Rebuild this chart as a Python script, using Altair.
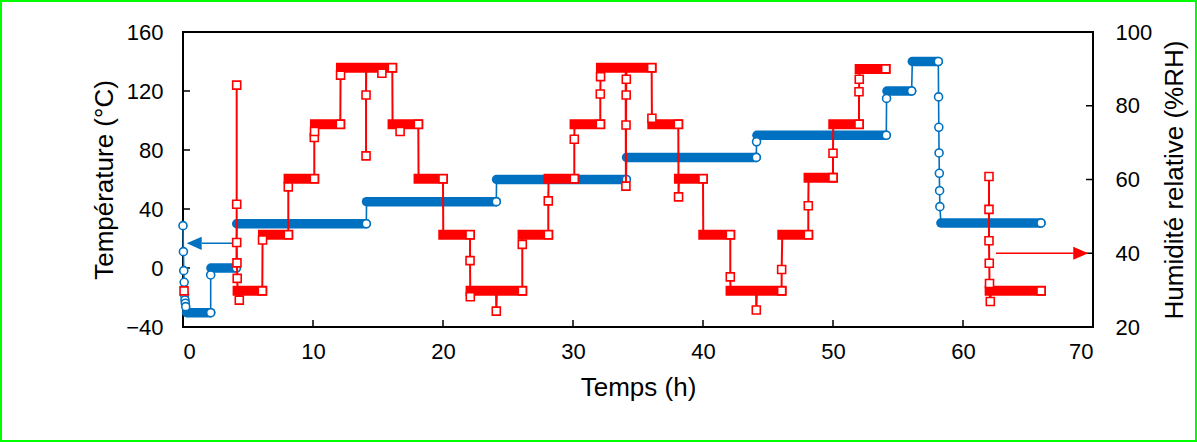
import altair as alt
import pandas as pd

BLUE = "#0070C0"
RED = "#FF0000"
FONT = "Liberation Sans"

# ---------------- Temperature (left axis, °C) ----------------
temp_t = [0.00, 0.03, 0.06, 0.09, 0.12, 0.15, 0.18, 0.21, 0.28, 2.13, 2.13, 2.15,
          4.10, 4.13, 14.10, 14.12, 24.10, 24.12, 34.10, 34.12, 44.10, 44.12, 44.15,
          54.10, 54.12, 54.15, 56.05, 56.10, 58.10, 58.12, 58.14, 58.16, 58.18, 58.20,
          58.22, 58.30, 66.00]
temp_v = [28.7, 11.1, -1.8, -9.7, -18.3, -21.7, -23.9, -26.2, -30.3, -30.3, -4.7, 0.0,
          0.0, 30.0, 30.0, 45.0, 45.0, 60.0, 60.0, 75.0, 75.0, 85.6, 90.0,
          90.0, 115.0, 120.0, 120.0, 140.0, 140.0, 116.0, 95.4, 78.0, 64.2, 52.4,
          41.6, 30.5, 30.5]
temp_mk = [1, 1, 1, 1, 1, 1, 1, 1, 0, 1, 1, 0,
           1, 0, 1, 0, 1, 0, 1, 0, 1, 1, 0,
           1, 1, 0, 1, 0, 1, 1, 1, 1, 1, 1,
           1, 0, 1]
# dense-sample plateaus (drawn as a solid band of overlapping markers)
temp_band_start = [0.28, 2.15, 4.13, 14.12, 24.12, 34.12, 44.15, 54.15, 56.10, 58.30]
temp_band_end = [2.13, 4.10, 14.10, 24.10, 34.10, 44.10, 54.10, 56.05, 58.10, 66.00]
temp_band_val = [-30.3, 0.0, 30.0, 45.0, 60.0, 75.0, 90.0, 120.0, 140.0, 30.5]

# ---------------- Relative humidity (right axis, %RH) ----------------
rh_t = [0.08,
        4.13, 4.13, 4.13, 4.15, 4.17, 4.20, 4.33, 4.40, 6.10, 6.12, 6.15, 8.10, 8.10, 8.12,
        10.10, 10.10, 10.12, 10.15, 12.10, 12.12, 12.15, 14.08, 14.08, 14.08, 14.10,
        15.28, 15.30, 15.35, 16.10, 16.12, 16.68, 16.70, 16.75, 18.10, 18.12, 20.00, 20.02, 22.08,
        22.08, 22.10, 22.12, 24.08, 24.10, 24.15, 26.10, 26.10, 26.12, 28.10, 28.10, 28.12,
        30.10, 30.10, 30.12, 32.10, 32.10, 32.12, 32.15, 34.05, 34.07, 34.08, 34.09,
        34.10, 34.12, 36.05, 36.07, 36.10, 38.10, 38.12, 38.15, 40.00, 40.02, 42.10,
        42.10, 42.12, 44.08, 44.10, 44.15, 46.05, 46.05, 46.10, 48.10, 48.10, 48.12, 50.00,
        50.00, 50.02, 52.00, 52.00, 52.02, 52.05, 54.05,
        62.00, 62.00, 62.00, 62.02, 62.04, 62.05, 62.10, 62.15, 66.00]
rh_v = [29.8,
        85.6, 53.3, 42.9, 37.4, 33.2, 29.8, 27.3, 29.8, 29.8, 43.6, 45.0, 45.0, 58.0, 60.2,
        60.2, 71.4, 73.0, 75.0, 75.0, 88.3, 90.3, 90.3, 66.4, 82.9, 90.3,
        90.3, 88.8, 90.3, 90.3, 75.0, 75.0, 73.0, 75.0, 75.0, 60.2, 60.2, 45.0, 45.0,
        38.0, 28.2, 29.8, 29.8, 24.3, 29.8, 29.8, 42.4, 45.0, 45.0, 54.2, 60.2,
        60.2, 70.9, 75.0, 75.0, 83.2, 87.9, 90.3, 90.3, 58.2, 74.8, 82.9,
        87.2, 90.3, 90.3, 76.6, 75.0, 75.0, 55.3, 60.2, 60.2, 45.0, 45.0,
        33.6, 29.8, 29.8, 24.6, 29.8, 29.8, 35.6, 45.0, 45.0, 52.9, 60.5, 60.5,
        67.1, 75.0, 75.0, 83.8, 87.2, 90.0, 90.0,
        60.8, 51.9, 43.4, 37.3, 31.8, 29.8, 26.9, 29.8, 29.8]
rh_mk = [1,
         1, 1, 1, 1, 1, 0, 1, 0, 1, 1, 0, 1, 1, 0,
         1, 1, 1, 0, 1, 1, 0, 0, 1, 1, 0,
         0, 1, 0, 1, 0, 0, 1, 0, 1, 0, 1, 0, 1,
         1, 1, 0, 0, 1, 0, 1, 1, 0, 1, 1, 0,
         1, 1, 0, 1, 1, 1, 0, 0, 1, 1, 1,
         1, 0, 1, 1, 0, 1, 1, 0, 1, 0, 1,
         1, 0, 0, 1, 0, 1, 1, 0, 1, 1, 0, 1,
         1, 0, 1, 1, 1, 0, 1,
         1, 1, 1, 1, 1, 0, 1, 0, 1]
rh_seg = [0] * 1 + [1] * 91 + [2] * 9
rh_band_start = [4.20, 6.15, 8.12, 10.15, 12.15, 16.12, 18.12, 20.02, 22.12, 26.12, 28.12,
                 30.12, 32.15, 36.10, 38.15, 40.02, 42.12, 46.10, 48.12, 50.02, 52.05, 62.05]
rh_band_end = [6.10, 8.10, 10.10, 12.10, 16.10, 18.10, 20.00, 22.08, 26.10, 28.10, 30.10,
               32.10, 36.05, 38.10, 40.00, 42.10, 46.05, 48.10, 50.00, 52.00, 54.05, 66.00]
rh_band_val = [29.8, 45.0, 60.2, 75.0, 90.3, 75.0, 60.2, 45.0, 29.8, 45.0, 60.2,
               75.0, 90.3, 75.0, 60.2, 45.0, 29.8, 45.0, 60.5, 75.0, 90.0, 29.8]

# axis tick values
x_ticks = [0, 10, 20, 30, 40, 50, 60, 70]
temp_ticks = [-40, 0, 40, 80, 120, 160]
rh_ticks = [20, 40, 60, 80, 100]

# arrows (pointing to the axis each series belongs to)
blue_arrow = {"x1": [1.44], "x2": [4.08], "v": [16.7], "head": [0.86]}
red_arrow = {"x1": [62.54], "x2": [68.5], "v": [40.0], "head": [69.06]}

# ---------------- frames ----------------
n = min(len(rh_t), len(rh_v), len(rh_mk), len(rh_seg))
temp_df = pd.DataFrame({"t": temp_t, "v": temp_v, "mk": temp_mk, "i": list(range(len(temp_t)))})
tband_df = pd.DataFrame({"s": temp_band_start, "e": temp_band_end, "v": temp_band_val})
rh_df = pd.DataFrame({"t": rh_t[:n], "v": rh_v[:n], "mk": rh_mk[:n], "seg": rh_seg[:n], "i": list(range(n))})
rband_df = pd.DataFrame({"s": rh_band_start, "e": rh_band_end, "v": rh_band_val})

x_scale = alt.Scale(domain=[0, 70], nice=False, zero=False)
temp_scale = alt.Scale(domain=[-40, 160], nice=False, zero=False)
rh_scale = alt.Scale(domain=[20, 100], nice=False, zero=False)

x_axis = alt.Axis(values=x_ticks, title="Temps (h)", ticks=False, tickSize=0, domain=False,
                  grid=False, labelAngle=0, labelPadding=14, titlePadding=12)
temp_axis = alt.Axis(values=temp_ticks, title="Température (°C)", ticks=False, tickSize=0,
                     domain=False, grid=False, labelPadding=20, titlePadding=8)
rh_axis = alt.Axis(values=rh_ticks, title="Humidité relative (%RH)", orient="right", ticks=False,
                   tickSize=0, domain=False, grid=False, labelPadding=22, titlePadding=10,
                   titleAngle=270, titleBaseline="top")

X = lambda f: alt.X(f, type="quantitative", scale=x_scale, axis=x_axis)
YT = lambda f: alt.Y(f, type="quantitative", scale=temp_scale, axis=temp_axis)
YR = lambda f: alt.Y(f, type="quantitative", scale=rh_scale, axis=rh_axis)

# green outer frame of the figure
border = alt.Chart(pd.DataFrame({"a": [0]})).mark_rect(
    fillOpacity=0, stroke="#00FF00", strokeWidth=2
).encode(x=alt.value(-182), x2=alt.value(1013), y=alt.value(-31), y2=alt.value(409))

# inward ticks
bottom_ticks = alt.Chart(pd.DataFrame({"t": x_ticks})).mark_rule(color="black", strokeWidth=1.5).encode(
    x=X("t"), y=alt.value(295), y2=alt.value(288))
left_ticks = alt.Chart(pd.DataFrame({"v": temp_ticks})).mark_rule(color="black", strokeWidth=1.5).encode(
    y=YT("v"), x=alt.value(0), x2=alt.value(7))
right_ticks = alt.Chart(pd.DataFrame({"v": rh_ticks})).mark_rule(color="black", strokeWidth=1.5).encode(
    y=YR("v"), x=alt.value(903), x2=alt.value(910))

# temperature series
t_band = alt.Chart(tband_df).mark_rule(color=BLUE, strokeWidth=9.5, strokeCap="round").encode(
    x=X("s"), x2="e:Q", y=YT("v"))
t_line = alt.Chart(temp_df).mark_line(color=BLUE, strokeWidth=1.6).encode(
    x=X("t"), y=YT("v"), order="i:Q")
t_pts = alt.Chart(temp_df).transform_filter(alt.datum.mk == 1).mark_point(
    shape="circle", size=64, filled=True, fill="white", stroke=BLUE, strokeWidth=1.6, opacity=1
).encode(x=X("t"), y=YT("v"))
b_arrow_line = alt.Chart(pd.DataFrame(blue_arrow)).mark_rule(color=BLUE, strokeWidth=1.5).encode(
    x=X("x1"), x2="x2:Q", y=YT("v"))
b_arrow_head = alt.Chart(pd.DataFrame(blue_arrow)).mark_point(
    shape="M1,-0.87L-1,0L1,0.87Z", size=225, filled=True, color=BLUE, opacity=1
).encode(x=X("head"), y=YT("v"))

# humidity series
r_band = alt.Chart(rband_df).mark_rule(color=RED, strokeWidth=10, strokeCap="square").encode(
    x=X("s"), x2="e:Q", y=YR("v"))
r_line = alt.Chart(rh_df).mark_line(color=RED, strokeWidth=2).encode(
    x=X("t"), y=YR("v"), detail="seg:N", order="i:Q")
r_pts = alt.Chart(rh_df).transform_filter(alt.datum.mk == 1).mark_point(
    shape="square", size=64, filled=True, fill="white", stroke=RED, strokeWidth=1.6, opacity=1
).encode(x=X("t"), y=YR("v"))
r_arrow_line = alt.Chart(pd.DataFrame(red_arrow)).mark_rule(color=RED, strokeWidth=1.5).encode(
    x=X("x1"), x2="x2:Q", y=YR("v"))
r_arrow_head = alt.Chart(pd.DataFrame(red_arrow)).mark_point(
    shape="M-1,-0.87L1,0L-1,0.87Z", size=225, filled=True, color=RED, opacity=1
).encode(x=X("head"), y=YR("v"))

blue_group = alt.layer(border, bottom_ticks, left_ticks, t_band, t_line, t_pts, b_arrow_line, b_arrow_head)
red_group = alt.layer(right_ticks, r_band, r_line, r_pts, r_arrow_line, r_arrow_head)

chart = alt.layer(blue_group, red_group).resolve_scale(y="independent").properties(
    width=910, height=295,
    autosize=alt.AutoSizeParams(type="none"),
    padding={"left": 183, "top": 32, "right": 104, "bottom": 115},
    background="white",
).configure_view(stroke="black", strokeWidth=2).configure_axis(
    labelFont=FONT, labelFontSize=22, labelColor="black",
    titleFont=FONT, titleFontSize=26, titleFontWeight="normal", titleColor="black",
)

chart.save("out.html", embed_options={"renderer": "svg", "actions": False})
